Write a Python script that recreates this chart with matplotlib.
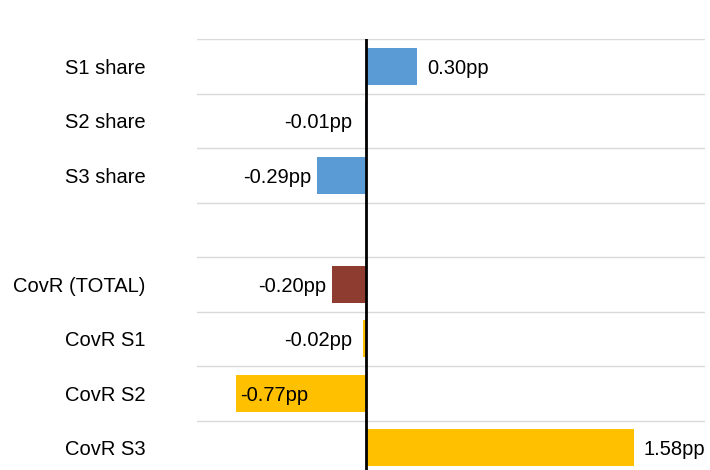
import matplotlib.pyplot as plt
from matplotlib.transforms import offset_copy

plt.rcParams['font.family'] = ['Liberation Sans', 'DejaVu Sans']

categories = ['S1 share', 'S2 share', 'S3 share', '', 'CovR (TOTAL)', 'CovR S1', 'CovR S2', 'CovR S3']
values = [0.30, -0.01, -0.29, None, -0.20, -0.02, -0.77, 1.58]
labels = ['0.30pp', '-0.01pp', '-0.29pp', '', '-0.20pp', '-0.02pp', '-0.77pp', '1.58pp']
colors = ['#5B9BD5', '#5B9BD5', '#5B9BD5', 'none', '#8E3B30', '#FFC000', '#FFC000', '#FFC000']

fs = 14.5

fig = plt.figure(figsize=(7.1, 4.7), dpi=100)
ax = fig.add_axes([197 / 710, 0, 508 / 710, 431 / 470])

xmin, xmax = -1.0, 2.0
ypos = list(range(len(categories)))
for y, v, c in zip(ypos, values, colors):
    if v is not None:
        ax.barh(y, v, height=0.68, color=c, zorder=2)

for y, v, t in zip(ypos, values, labels):
    if v is None:
        continue
    if v >= 0:
        tr = offset_copy(ax.transData, fig=fig, x=10, y=0, units='dots')
        ax.text(v, y, t, ha='left', va='center_baseline', fontsize=fs, transform=tr)
    elif v < -0.6:
        tr = offset_copy(ax.transData, fig=fig, x=4, y=0, units='dots')
        ax.text(v, y, t, ha='left', va='center_baseline', fontsize=fs, transform=tr)
    else:
        tr = offset_copy(ax.transData, fig=fig, x=-6, y=0, units='dots')
        ax.text(min(v, -0.05), y, t, ha='right', va='center_baseline', fontsize=fs, transform=tr)

ax.set_xlim(xmin, xmax)
ax.set_ylim(7.5 - 5 / 54.5, -0.5)
for g in range(len(categories) + 1):
    ax.axhline(g - 0.5, color='#d9d9d9', linewidth=1.0, zorder=1)
ax.axvline(0, color='black', linewidth=2, zorder=3)

ax.set_yticks(ypos)
ax.set_yticklabels(categories, fontsize=fs)
ax.tick_params(axis='y', length=0, pad=37)
ax.set_xticks([])
for s in ax.spines.values():
    s.set_visible(False)

fig.savefig('out.png', dpi=100)
